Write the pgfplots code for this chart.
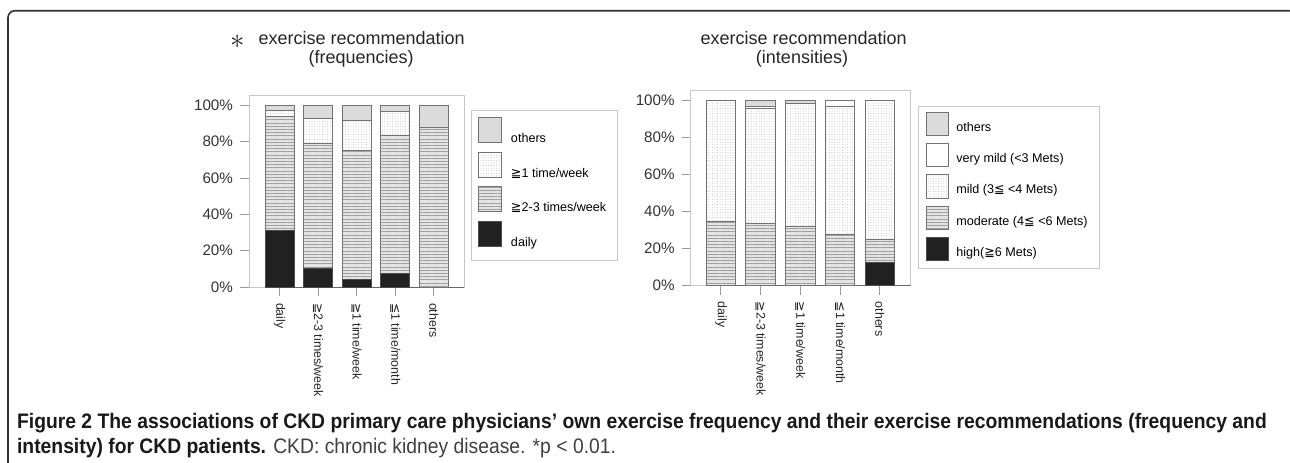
\documentclass[border=0pt]{standalone}
\usepackage{pgfplots}
\pgfplotsset{compat=1.18}
\usetikzlibrary{patterns.meta}
\usepackage{fontspec}
\setmainfont{Liberation Sans}
\newfontfamily\symf{DejaVu Sans}
\newfontfamily\capf[FakeStretch=0.92]{Liberation Sans}
\newcommand{\GE}{{\symf ≧}}
\newcommand{\LE}{{\symf ≦}}
\tikzset{
  stripes/.style={fill=gray!22, draw=black!55, line width=0.4pt,
    postaction={pattern={Lines[angle=0,distance=1.6pt,line width=0.3pt]}, pattern color=gray!75}},
  dotfill/.style={fill=white, draw=black!55, line width=0.4pt,
    postaction={pattern={Dots[distance=1.3pt,radius=0.22pt]}, pattern color=gray!65}},
  solidgray/.style={fill=gray!28, draw=black!55, line width=0.4pt},
  blackfill/.style={fill=black!87, draw=black!70, line width=0.4pt},
  whitefill/.style={fill=white, draw=black!55, line width=0.4pt},
}
\pgfplotsset{
  mybars/.style={
    scale only axis, ybar stacked, ymin=0,
    xtick={0,...,4},
    xticklabels={daily, \GE2-3 times/week, \GE1 time/week, \LE1 time/month, others},
    ytick={0,20,...,100}, yticklabel={\pgfmathprintnumber{\tick}\%},
    /pgf/number format/assume math mode=true,
    axis line style={gray!45}, tick style={gray!80, line width=0.5pt},
    tick align=outside, tick pos=left, major tick length=4.5pt,
    xticklabel style={rotate=-90, anchor=west, font=\fontsize{6.2}{7}\selectfont, text=black!85},
    yticklabel style={font=\fontsize{7.6}{8}\selectfont, text=black!80},
    reverse legend, legend cell align=left,
  }
}
\begin{document}
\begin{tikzpicture}[x=0.5pt,y=0.5pt]
\useasboundingbox (0,0) rectangle (1290,462);
\clip (0,0) rectangle (1290,462);
% frame
\draw[black!80, line width=0.8pt, rounded corners=3.5pt] (8,-20) -- (8,451.3) -- (1296,451.3) -- (1296,-20);

% titles
\node[anchor=base, font=\fontsize{9}{10}\selectfont, text=black!85] at (361.7,417.7) {exercise recommendation};
\node[anchor=base, font=\fontsize{9}{10}\selectfont, text=black!85] at (361.2,398.7) {(frequencies)};
\node[text=black!85] at (237.5,420) {\fontsize{15}{15}\selectfont$\ast$};
\node[anchor=base, font=\fontsize{9}{10}\selectfont, text=black!85] at (803.7,417.7) {exercise recommendation};
\node[anchor=base, font=\fontsize{9}{10}\selectfont, text=black!85] at (802,398.7) {(intensities)};

% left chart
\begin{axis}[mybars, at={(124.5pt,87.5pt)}, anchor=south west,
  width=107.5pt, height=96pt, xmin=-0.79, xmax=4.78, ymax=105.7, bar width=0.75,
  legend style={at={(1.033,0.922)}, anchor=north west, draw=gray!45, fill=white,
    font=\fontsize{6.3}{7}\selectfont, inner xsep=3.35pt, inner ysep=3.35pt, row sep=1.05pt,
    /tikz/every odd column/.append style={column sep=2.5pt}},
  legend image code/.code={\draw[#1] (0pt,-1.5pt) rectangle (11.5pt,11pt);},
]
\addplot[blackfill] coordinates {(0,31.3) (1,10.5) (2,4) (3,7.5) (4,0)};
\addlegendentry{daily}
\addplot[stripes] coordinates {(0,62.4) (1,68.6) (2,71.4) (3,76.2) (4,87.7)};
\addlegendentry{\GE2-3 times/week}
\addplot[dotfill] coordinates {(0,3.7) (1,13.7) (2,16.3) (3,12.8) (4,0)};
\addlegendentry{\GE1 time/week}
\addplot[solidgray] coordinates {(0,2.6) (1,7.2) (2,8.3) (3,3.5) (4,12.3)};
\addlegendentry{others}
\draw[black!60, line width=0.5pt] (rel axis cs:0,0) ++(-4.5pt,0) -- (rel axis cs:1,0);
\end{axis}

% right chart
\begin{axis}[mybars, at={(345.35pt,88.15pt)}, anchor=south west,
  width=110pt, height=97.85pt, xmin=-0.763, xmax=4.78, ymax=105.4, bar width=0.745,
  legend style={at={(1.033,0.918)}, anchor=north west, draw=gray!45, fill=white,
    font=\fontsize{6.3}{7}\selectfont, inner xsep=4pt, inner ysep=2.6pt, row sep=2.4pt,
    /tikz/every odd column/.append style={column sep=1.7pt}},
  legend image code/.code={\draw[#1] (0pt,-3.6pt) rectangle (10.85pt,8.05pt);},
]
\addplot[blackfill] coordinates {(0,0) (1,0) (2,0) (3,0) (4,12.6)};
\addlegendentry{high(\GE6 Mets)}
\addplot[stripes] coordinates {(0,34.7) (1,33.6) (2,32.1) (3,27.7) (4,12.5)};
\addlegendentry{moderate (4\LE\ <6 Mets)}
\addplot[dotfill] coordinates {(0,65.3) (1,61.9) (2,65.9) (3,68.7) (4,74.9)};
\addlegendentry{mild (3\LE\ <4 Mets)}
\addplot[whitefill] coordinates {(0,0) (1,1.3) (2,0.3) (3,3.6) (4,0)};
\addlegendentry{very mild (<3 Mets)}
\addplot[solidgray] coordinates {(0,0) (1,3.2) (2,1.7) (3,0) (4,0)};
\addlegendentry{others}
\draw[black!60, line width=0.5pt] (rel axis cs:0,0) ++(-4.5pt,0) -- (rel axis cs:1,0);
\end{axis}

% caption
\node[anchor=base west, inner sep=0pt, font=\capf\fontsize{10.5}{12}\selectfont, text=black!90] at (16.7,33.7)
  {\bfseries Figure 2 The associations of CKD primary care physicians’ own exercise frequency and their exercise recommendations (frequency and};
\node[anchor=base west, inner sep=0pt, font=\capf\fontsize{10.5}{12}\selectfont, text=black!90] at (16.7,8.7)
  {\bfseries intensity) for CKD patients. \mdseries\color{black!75}CKD: chronic kidney disease. *p < 0.01.};
\end{tikzpicture}
\end{document}
